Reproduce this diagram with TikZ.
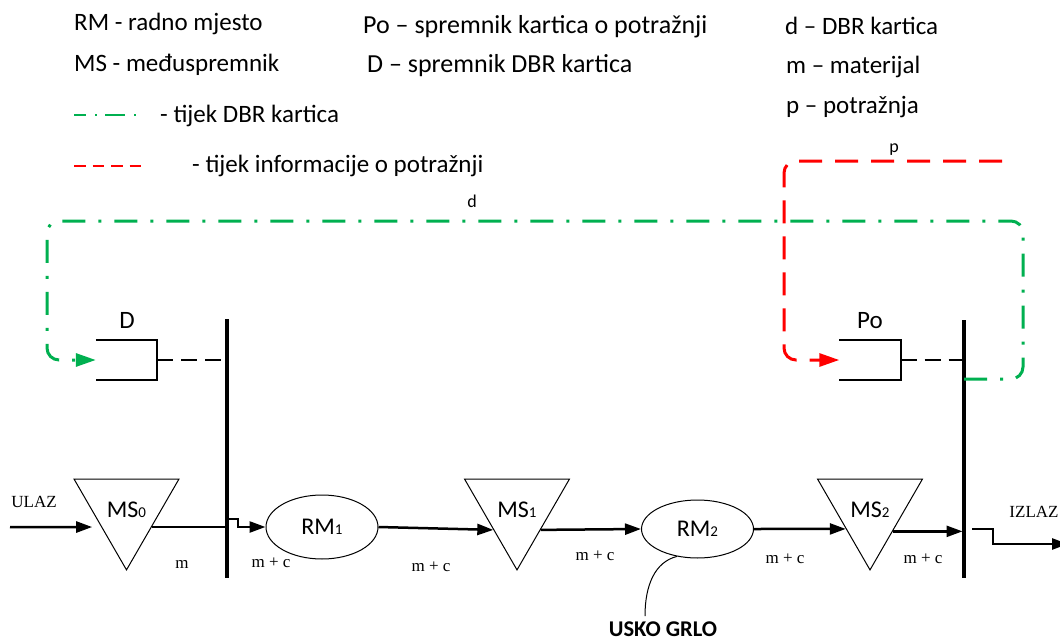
\documentclass[tikz,border=0pt]{standalone}
\usepackage{fontspec}
\setmainfont{Carlito}
\newfontfamily\timesfont{Liberation Serif}
\usetikzlibrary{arrows.meta,shapes.geometric}
\definecolor{dbrgreen}{RGB}{0,176,80}
\definecolor{demandred}{RGB}{255,0,0}
\newcommand\subidx[1]{{\fontsize{15}{15}\selectfont #1}}

\begin{document}
\begin{tikzpicture}[x=1pt,y=-1pt,
  legendtxt/.style={anchor=base west, inner sep=0, font=\fontsize{25}{30}\selectfont},
  legendwide/.style={legendtxt, font=\fontsize{26}{30}\selectfont},
  boxname/.style={inner sep=0, font=\fontsize{25}{30}\selectfont},
  smalltag/.style={inner sep=0, font=\fontsize{18}{20}\selectfont},
  serif/.style={inner sep=0, font=\timesfont\fontsize{17}{20}\selectfont},
  buffer/.style={regular polygon, regular polygon sides=3, shape border rotate=180,
    draw, line width=1pt, minimum size=121.2pt, inner sep=0,
    font=\fontsize{24}{28}\selectfont},
  station/.style={ellipse, draw, line width=1pt, minimum width=112pt,
    minimum height=64pt, inner sep=0, font=\fontsize{24}{28}\selectfont},
  slot/.style={rectangle, minimum width=61pt, minimum height=40pt, inner sep=0},
  bracket/.style={line width=2pt},
  bus/.style={line width=3.5pt},
  link/.style={line width=2pt, dash pattern=on 16pt off 8pt},
  plain/.style={line width=2.5pt},
  flow/.style={line width=2.5pt, -{Triangle[length=16pt,width=11pt]}},
  dbrflow/.style={dbrgreen, line width=3pt, rounded corners=12pt,
    dash pattern=on 23pt off 13pt on 3pt off 13pt,
    -{Triangle[length=20pt,width=13pt]}},
  demandflow/.style={demandred, line width=3pt, rounded corners=12pt,
    dash pattern=on 23pt off 13pt,
    -{Triangle[length=20pt,width=13pt]}},
  dbrlegend/.style={dbrgreen, line width=2pt,
    dash pattern=on 20pt off 9pt on 2pt off 8pt, dash phase=8pt},
  demandlegend/.style={demandred, line width=2pt, dash pattern=on 11.5pt off 7pt},
]
\path[fill=white,use as bounding box] (0,0) rectangle (1060,642);

% ---- legend ----
\node[legendtxt] (rmdef) at (74,31) {RM - radno mjesto};
\node[legendtxt] (msdef) at (74,71) {MS - međuspremnik};
\node[legendwide] (podef) at (363,34) {Po – spremnik kartica o potražnji};
\node[legendwide] (ddef)  at (367,73) {D – spremnik DBR kartica};
\node[legendtxt] (dcard) at (785,35) {d – DBR kartica};
\node[legendtxt] (mdef)  at (786,74) {m – materijal};
\node[legendtxt] (pdef)  at (786,113) {p – potražnja};

\coordinate (lga) at (74,115);
\coordinate (lgb) at (143,115);
\draw[dbrlegend] (lga) -- (lgb);
\node[legendtxt] (lgdbr) at (160,122) {- tijek DBR kartica};

\coordinate (lra) at (74,166);
\coordinate (lrb) at (143,166);
\draw[demandlegend] (lra) -- (lrb);
\node[legendtxt] (lgdem) at (192,172) {- tijek informacije o potražnji};

% ---- bus bars ----
\coordinate (b1top) at (227,319);
\coordinate (b1bot) at (227,578);
\coordinate (b2top) at (964,320);
\coordinate (b2bot) at (964,578);
\draw[bus] (b1top) -- (b1bot);
\draw[bus] (b2top) -- (b2bot);

% ---- card stores ----
\node[slot] (dbox) at (126.5,360) {};
\draw[bracket] (dbox.north west) -- (dbox.north east) -- (dbox.south east) -- (dbox.south west);
\node[boxname] (dname) at (127,320) {D};
\draw[link] (dbox.east) -- (dbox.east -| b1top);

\node[slot] (pobox) at (870,360) {};
\draw[bracket] (pobox.north west) -- (pobox.north east) -- (pobox.south east) -- (pobox.south west);
\node[boxname] (poname) at (870,321) {Po};
\draw[link] (pobox.east) -- (pobox.east -| b2top);

% ---- DBR card loop ----
\coordinate (gstart) at (964,379);
\coordinate (gse) at (1023,379);
\coordinate (gne) at (1023,221);
\coordinate (gnw) at (47,221);
\coordinate (gsw) at (47,360);
\draw[dbrflow] (gstart) -- (gse) -- (gne) -- (gnw) -- (gsw) -- (dbox.west);
\node[smalltag] (dtag) at (472,201) {d};

% ---- demand information ----
\coordinate (rstart) at (1002,161);
\coordinate (rnw) at (784,161);
\coordinate (rsw) at (784,360);
\draw[demandflow] (rstart) -- (rnw) -- (rsw) -- (pobox.west);
\node[smalltag] (ptag) at (894,150) {p};

% ---- material flow ----
\node[buffer] (ms0) at (126.5,509.3) {MS\subidx{0}};
\node[station] (rm1) at (322,527) {RM\subidx{1}};
\node[buffer] (ms1) at (517,509.3) {MS\subidx{1}};
\node[station, minimum height=58pt] (rm2) at (697.5,529) {RM\subidx{2}};
\node[buffer] (ms2) at (870,509.3) {MS\subidx{2}};

\node[serif] (ulaz) at (34,502) {ULAZ};
\coordinate (inlet) at (10,527);
\draw[flow, shorten >=9pt] (inlet) -- (ms0.215.5);
\draw[plain] (ms0.-35.5) -- (ms0.-35.5 -| b1top);

\coordinate (b1out) at (227,519);
\draw[flow] (b1out) -- ++(11,0) |- (rm1.west);
\draw[flow] (rm1.east) -- (ms1.221.9);
\draw[flow] (ms1.-41.9) -- (rm2.west);
\draw[flow] (rm2.east) -- (ms2.219.8);
\draw[flow, shorten >=1.5pt] (ms2.-44) -- (ms2.-44 -| b2top);

\coordinate (b2out) at (972,529);
\coordinate (outlet) at (1068,544);
\draw[flow] (b2out) -- ++(21,0) |- (outlet);
\node[serif] (izlaz) at (1034,512) {IZLAZ};

\node[serif] (lm0) at (182,564) {m};
\node[serif] (lm1) at (271,563) {m + c};
\node[serif] (lm2) at (431,567) {m + c};
\node[serif] (lm3) at (595,556) {m + c};
\node[serif] (lm4) at (785,559) {m + c};
\node[serif] (lm5) at (923,559) {m + c};

% ---- bottleneck callout ----
\node[inner sep=0, font=\bfseries\fontsize{22.5}{26}\selectfont] (usko) at (663,629) {USKO GRLO};
\coordinate (uskotip) at (645,616);
\draw[line width=1pt] (rm2.233) .. controls (655,562) and (645,585) .. (uskotip);
\end{tikzpicture}
\end{document}
